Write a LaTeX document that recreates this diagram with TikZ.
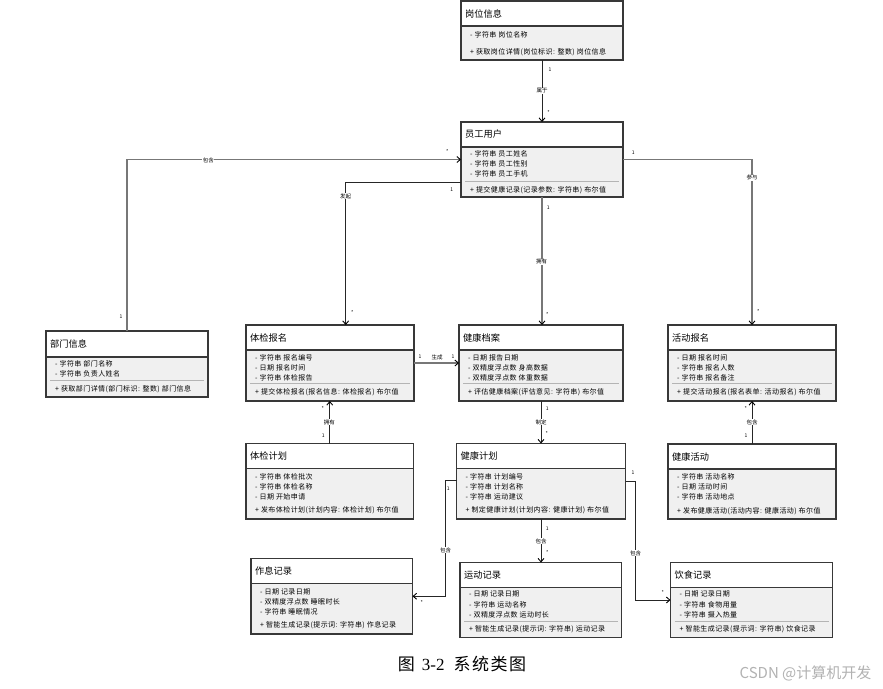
\documentclass[tikz,border=0pt]{standalone}
\usepackage{fontspec}
\setmainfont{Noto Sans CJK SC}
\newfontfamily\cjkspaced[LetterSpace=6]{Noto Sans CJK SC}
\newfontfamily\serifen{Liberation Serif}
\usetikzlibrary{arrows.meta,calc}
\definecolor{bodyc}{HTML}{F0F0F0}
\definecolor{borderc}{HTML}{383838}
\definecolor{divc}{HTML}{B4B4B4}
\definecolor{connc}{HTML}{777777}
\tikzset{
  boxbg/.style={draw=none,fill=white,inner sep=0pt,outer sep=0pt,rectangle},
  boxline/.style={draw=borderc,line width=1.1pt},
  divline/.style={draw=divc,line width=0.5pt},
  titletext/.style={anchor=west,inner sep=0pt,font=\fontsize{9.2}{10}\selectfont},
  attrtext/.style={anchor=west,inner sep=0pt,font=\cjkspaced\fontsize{7}{8}\selectfont},
  conn/.style={draw=connc,line width=1.4pt},
  conndark/.style={draw=black!85,line width=0.9pt},
  tip/.style={-{Straight Barb[length=3.5pt,width=6pt,line width=0.9pt,color=black]}},
  lab/.style={fill=white,inner sep=0.6pt,font=\fontsize{5.5}{6}\selectfont},
  mult/.style={inner sep=0pt,font=\fontsize{5}{6}\selectfont}
}
\newcommand\umlbox[6]{%
  \node[boxbg, minimum width={(#4-#2)*1pt}, minimum height={(#6-#3)*1pt}] (#1) at ({(#2+#4)/2},{(#3+#6)/2}) {};
  \fill[bodyc] (#2,#5) rectangle (#4,#6);
  \draw[boxline] (#2,#5) -- (#4,#5);
  \draw[boxline] (#2,#3) rectangle (#4,#6);
}
\newcommand\udiv[3]{\draw[divline] ({#1+4},#3) -- ({#2-4},#3);}
\begin{document}
\begin{tikzpicture}[x=1pt,y=-1pt]
\fill[white] (0,0) rectangle (883,688);
\useasboundingbox (0,0) rectangle (883,688);

% ---------- classes ----------
% 岗位信息
\umlbox{gw}{461}{1}{623}{26}{60}
\node[titletext] (gw-t) at (465,13.5) {岗位信息};
\node[attrtext] (gw-1) at (470,35) {- 字符串 岗位名称};
\node[attrtext] (gw-m) at (470,52) {+ 获取岗位详情(岗位标识: 整数) 岗位信息};

% 员工用户
\umlbox{yg}{461}{122}{623}{147}{197}
\node[titletext] (yg-t) at (465,134.5) {员工用户};
\node[attrtext] (yg-1) at (470,154) {- 字符串 员工姓名};
\node[attrtext] (yg-2) at (470,164) {- 字符串 员工性别};
\node[attrtext] (yg-3) at (470,174) {- 字符串 员工手机};
\udiv{461}{623}{181}
\node[attrtext] (yg-m) at (470,190.5) {+ 提交健康记录(记录参数: 字符串) 布尔值};

% 部门信息
\umlbox{bm}{46}{331}{208}{357}{397}
\node[titletext] (bm-t) at (50,344) {部门信息};
\node[attrtext] (bm-1) at (55,364) {- 字符串 部门名称};
\node[attrtext] (bm-2) at (55,374) {- 字符串 负责人姓名};
\udiv{46}{208}{380}
\node[attrtext] (bm-m) at (55,389.5) {+ 获取部门详情(部门标识: 整数) 部门信息};

% 体检报名
\umlbox{tb}{246}{325}{414}{350}{401}
\node[titletext] (tb-t) at (250,337.5) {体检报名};
\node[attrtext] (tb-1) at (255,357.5) {- 字符串 报名编号};
\node[attrtext] (tb-2) at (255,367.5) {- 日期 报名时间};
\node[attrtext] (tb-3) at (255,377.5) {- 字符串 体检报告};
\udiv{246}{414}{383}
\node[attrtext] (tb-m) at (255,392) {+ 提交体检报名(报名信息: 体检报名) 布尔值};

% 健康档案
\umlbox{da}{459}{325}{623}{350}{401}
\node[titletext] (da-t) at (463,337.5) {健康档案};
\node[attrtext] (da-1) at (468,357.5) {- 日期 报告日期};
\node[attrtext] (da-2) at (468,367.5) {- 双精度浮点数 身高数据};
\node[attrtext] (da-3) at (468,377.5) {- 双精度浮点数 体重数据};
\udiv{459}{623}{383}
\node[attrtext] (da-m) at (468,392) {+ 评估健康档案(评估意见: 字符串) 布尔值};

% 活动报名
\umlbox{hb}{668}{325}{836}{350}{401}
\node[titletext] (hb-t) at (672,337.5) {活动报名};
\node[attrtext] (hb-1) at (677,357.5) {- 日期 报名时间};
\node[attrtext] (hb-2) at (677,367.5) {- 字符串 报名人数};
\node[attrtext] (hb-3) at (677,377.5) {- 字符串 报名备注};
\udiv{668}{836}{383}
\node[attrtext] (hb-m) at (677,392) {+ 提交活动报名(报名表单: 活动报名) 布尔值};

% 体检计划
\umlbox{tj}{246}{443.5}{413.5}{468.5}{519}
\node[titletext] (tj-t) at (250,456) {体检计划};
\node[attrtext] (tj-1) at (255,476.7) {- 字符串 体检批次};
\node[attrtext] (tj-2) at (255,486.7) {- 字符串 体检名称};
\node[attrtext] (tj-3) at (255,496.7) {- 日期 开始申请};
\node[attrtext] (tj-m) at (255,510.7) {+ 发布体检计划(计划内容: 体检计划) 布尔值};

% 健康计划
\umlbox{jj}{456.5}{443.5}{625.5}{468.5}{519}
\node[titletext] (jj-t) at (460.5,456) {健康计划};
\node[attrtext] (jj-1) at (465.5,476.7) {- 字符串 计划编号};
\node[attrtext] (jj-2) at (465.5,486.7) {- 字符串 计划名称};
\node[attrtext] (jj-3) at (465.5,496.7) {- 字符串 运动建议};
\node[attrtext] (jj-m) at (465.5,510.7) {+ 制定健康计划(计划内容: 健康计划) 布尔值};

% 健康活动
\umlbox{hd}{668}{444}{836}{469}{519}
\node[titletext] (hd-t) at (672,456.5) {健康活动};
\node[attrtext] (hd-1) at (677,477.3) {- 字符串 活动名称};
\node[attrtext] (hd-2) at (677,487.3) {- 日期 活动时间};
\node[attrtext] (hd-3) at (677,497.3) {- 字符串 活动地点};
\node[attrtext] (hd-m) at (677,511) {+ 发布健康活动(活动内容: 健康活动) 布尔值};

% 作息记录
\umlbox{zx}{251}{558.5}{412.5}{583.5}{634}
\node[titletext] (zx-t) at (255,571) {作息记录};
\node[attrtext] (zx-1) at (260,591.7) {- 日期 记录日期};
\node[attrtext] (zx-2) at (260,601.7) {- 双精度浮点数 睡眠时长};
\node[attrtext] (zx-3) at (260,611.7) {- 字符串 睡眠情况};
\node[attrtext] (zx-m) at (260,625.7) {+ 智能生成记录(提示词: 字符串) 作息记录};

% 运动记录
\umlbox{yd}{460}{562.5}{621.5}{587.5}{637.5}
\node[titletext] (yd-t) at (464,575) {运动记录};
\node[attrtext] (yd-1) at (469,594.3) {- 日期 记录日期};
\node[attrtext] (yd-2) at (469,604.5) {- 字符串 运动名称};
\node[attrtext] (yd-3) at (469,614.7) {- 双精度浮点数 运动时长};
\udiv{460}{621.5}{621}
\node[attrtext] (yd-m) at (469,629.7) {+ 智能生成记录(提示词: 字符串) 运动记录};

% 饮食记录
\umlbox{ys}{670.5}{562.5}{832.5}{587.5}{637.5}
\node[titletext] (ys-t) at (674.5,575) {饮食记录};
\node[attrtext] (ys-1) at (679.5,594.3) {- 日期 记录日期};
\node[attrtext] (ys-2) at (679.5,604.5) {- 字符串 食物用量};
\node[attrtext] (ys-3) at (679.5,614.7) {- 字符串 摄入热量};
\udiv{670.5}{832.5}{621}
\node[attrtext] (ys-m) at (679.5,629.7) {+ 智能生成记录(提示词: 字符串) 饮食记录};

% ---------- connectors ----------
% 属于
\draw[conndark,tip] (gw.south) -- (yg.north);
\node[mult] (m1a) at (550,69.3) {1};
\node[lab] (l1) at (542,90.7) {属于};
\node[mult] (m1b) at (548.5,112.7) {*};

% 包含 (部门 -> 员工)
\draw[conn,tip] (bm.north) |- (yg.west);
\node[mult] (m2a) at (121,316.7) {1};
\node[lab] (l2) at (208.3,160) {包含};
\node[mult] (m2b) at (447.3,151.7) {*};

% 发起
\coordinate (f1) at (345.7,182);
\draw[conndark,tip] (yg.west |- f1) -- (f1) -- (f1 |- tb.north);
\node[lab] (l3) at (345.7,196) {发起};
\node[mult] (m3a) at (451.7,189.3) {1};
\node[mult] (m3b) at (352.3,312.7) {*};

% 参与
\draw[conn,tip] (yg.east) -| (hb.north);
\node[mult] (m4a) at (633.3,152.7) {1};
\node[lab] (l4) at (752,177.7) {参与};
\node[mult] (m4b) at (758.3,311.7) {*};

% 拥有 (员工 -> 健康档案)
\draw[conn,tip] (yg.south) -- (yg.south |- da.north);
\node[mult] (m5a) at (548.3,207.3) {1};
\node[lab] (l5) at (541.7,261.7) {拥有};
\node[mult] (m5b) at (547.3,315) {*};

% 生成
\draw[conn,tip] (tb.east) -- (tb.east -| da.west);
\node[mult] (m6a) at (420,357) {1};
\node[mult] (l6) at (437,357) {\fontsize{5.5}{6}\selectfont 生成};
\node[mult] (m6b) at (453,357) {1};

% 拥有 (体检计划 -> 体检报名)
\draw[conndark,tip] (tj.north) -- (tj.north |- tb.south);
\node[mult] (m7a) at (322.7,408.3) {*};
\node[lab] (l7) at (329.3,422.3) {拥有};
\node[mult] (m7b) at (323.3,435.7) {1};

% 制定
\draw[conndark,tip] (da.south) -- (da.south |- jj.north);
\node[mult] (m8a) at (547.3,409) {1};
\node[lab] (l8) at (541,422.3) {制定};
\node[mult] (m8b) at (546.7,434) {*};

% 包含 (健康活动 -> 活动报名)
\draw[conndark,tip] (hd.north) -- (hd.north |- hb.south);
\node[mult] (m9a) at (745.7,408.3) {*};
\node[lab] (l9) at (752,422.3) {包含};
\node[mult] (m9b) at (746,436) {1};

% 包含 (健康计划 -> 作息记录)
\coordinate (c10) at (445.7,480.7);
\draw[conndark,tip] (jj.west |- c10) -- (c10) |- (zx.east);
\node[mult] (m10a) at (448.3,488.3) {1};
\node[lab] (l10) at (445.7,550) {包含};
\node[mult] (m10b) at (421.7,602.7) {*};

% 包含 (健康计划 -> 运动记录)
\draw[conndark,tip] (jj.south) -- (jj.south |- yd.north);
\node[mult] (m11a) at (547.3,528.3) {1};
\node[lab] (l11) at (541,541) {包含};
\node[mult] (m11b) at (547.3,552.3) {*};

% 包含 (健康计划 -> 饮食记录)
\coordinate (c12) at (635.7,481.7);
\draw[conndark,tip] (jj.east |- c12) -- (c12) |- (ys.west);
\node[mult] (m12a) at (633,473) {1};
\node[lab] (l12) at (635.7,553) {包含};
\node[mult] (m12b) at (662.7,592.3) {*};

% ---------- caption ----------
\node[inner sep=0pt] (cap) at (462,664) {\fontsize{17}{20}\selectfont 图\hspace{7pt}{\serifen 3-2}\hspace{9pt}系\hspace{1.5pt}统\hspace{1.5pt}类\hspace{1.5pt}图};
\node[inner sep=0pt,text=black!30] (wm) at (805.5,673) {\fontsize{15}{18}\selectfont CSDN @计算机开发};
\end{tikzpicture}
\end{document}
